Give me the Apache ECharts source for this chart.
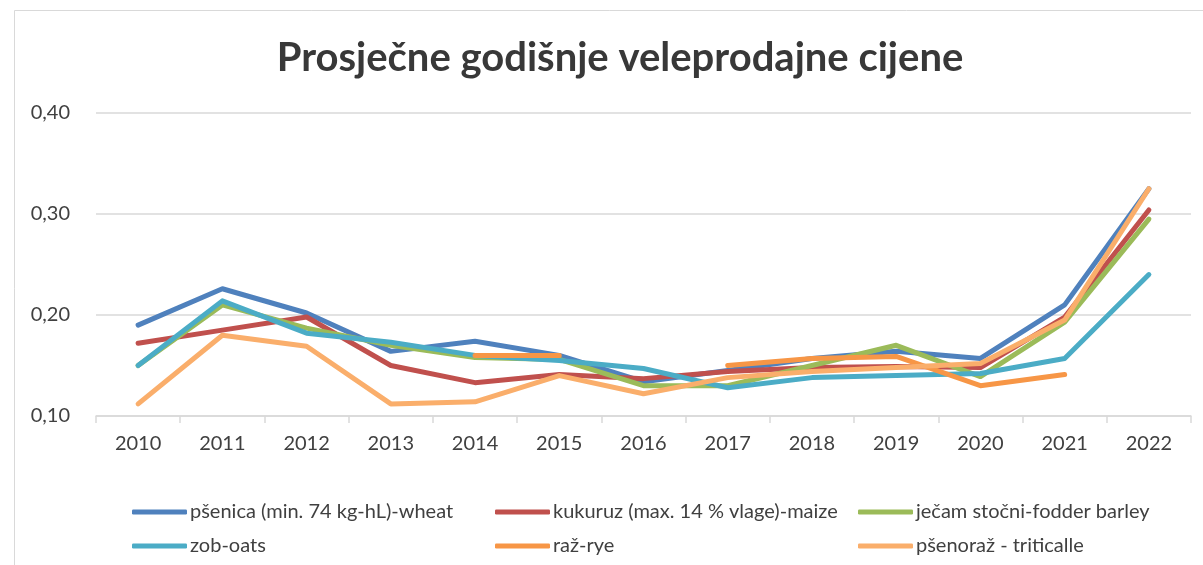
<!DOCTYPE html>
<html>
<head>
<meta charset="utf-8">
<script src="https://cdn.jsdelivr.net/npm/echarts@6/dist/echarts.min.js"></script>
<style>
  html, body { margin: 0; padding: 0; background: #fff; }
  #chart { width: 1203px; height: 565px; }
</style>
</head>
<body>
<div id="chart"></div>
<script>
var years = ['2010', '2011', '2012', '2013', '2014', '2015', '2016', '2017', '2018', '2019', '2020', '2021', '2022'];

var wheat = [0.190, 0.226, 0.202, 0.164, 0.174, 0.160, 0.134, 0.145, 0.157, 0.164, 0.157, 0.210, 0.325];
var maize = [0.172, 0.185, 0.198, 0.150, 0.133, 0.141, 0.137, 0.144, 0.148, 0.149, 0.148, 0.198, 0.304];
var barley = [0.150, 0.210, 0.187, 0.170, 0.158, 0.156, 0.130, 0.130, 0.150, 0.170, 0.139, 0.193, 0.295];
var oats = [0.150, 0.214, 0.182, 0.173, 0.160, 0.155, 0.147, 0.128, 0.138, 0.140, 0.142, 0.157, 0.240];
var rye = [null, null, null, null, 0.160, 0.160, null, 0.150, 0.157, 0.159, 0.130, 0.141, null];
var triticale = [0.112, 0.180, 0.169, 0.112, 0.114, 0.140, 0.122, 0.138, 0.144, 0.148, 0.152, 0.195, 0.325];

var names = [
    'pšenica (min. 74 kg-hL)-wheat',
    'kukuruz (max. 14 % vlage)-maize',
    'ječam stočni-fodder barley',
    'zob-oats',
    'raž-rye',
    'pšenoraž - triticalle'
];
var colors = ['#4F81BD', '#C0504D', '#9BBB59', '#4BACC6', '#F79646', '#FAAE6B'];
var values = [wheat, maize, barley, oats, rye, triticale];

var font = 'Lato, "Open Sans", sans-serif';

function makeLegend(left, items) {
    return {
        left: left,
        top: 497,
        orient: 'vertical',
        itemGap: 14,
        itemWidth: 55,
        itemHeight: 5,
        icon: 'roundRect',
        data: items,
        textStyle: { fontFamily: font, fontSize: 20, color: '#404040', padding: [0, 0, 0, -2] }
    };
}

var chart = echarts.init(document.getElementById('chart'));
chart.setOption({
    backgroundColor: '#fff',
    animation: false,
    color: colors,
    title: {
        text: 'Prosječne godišnje veleprodajne cijene',
        left: 615,
        textAlign: 'center',
        top: 33,
        textStyle: { fontFamily: font, fontSize: 40, fontWeight: 'bold', color: '#383838' }
    },
    graphic: [{
        type: 'rect',
        shape: { x: 14.5, y: 10.5, width: 1300, height: 700 },
        style: { fill: 'none', stroke: '#d9d9d9', lineWidth: 1 },
        silent: true
    }],
    legend: [
        makeLegend(127, [names[0], names[3]]),
        makeLegend(490, [names[1], names[4]]),
        makeLegend(853, [names[2], names[5]])
    ],
    grid: { left: 96, right: 12, top: 113, bottom: 149, containLabel: false },
    xAxis: {
        type: 'category',
        data: years,
        boundaryGap: true,
        axisLine: { lineStyle: { color: '#d9d9d9', width: 1.5 } },
        axisTick: { show: true, length: 7, lineStyle: { color: '#d9d9d9', width: 1.5 } },
        axisLabel: { fontFamily: font, fontSize: 20, color: '#404040', margin: 18 }
    },
    yAxis: {
        type: 'value',
        min: 0.1,
        max: 0.4,
        interval: 0.1,
        axisLine: { show: false },
        axisTick: { show: false },
        splitLine: { lineStyle: { color: '#d9d9d9', width: 1.5 } },
        axisLabel: {
            fontFamily: font, fontSize: 20, color: '#404040', margin: 26,
            formatter: function (v) { return v.toFixed(2).replace('.', ','); }
        }
    },
    series: values.map(function (data, i) {
        return {
            name: names[i],
            type: 'line',
            data: data,
            symbol: 'none',
            connectNulls: false,
            lineStyle: { width: 5, cap: 'round', join: 'round', color: colors[i] },
            itemStyle: { color: colors[i] }
        };
    })
});
</script>
</body>
</html>
